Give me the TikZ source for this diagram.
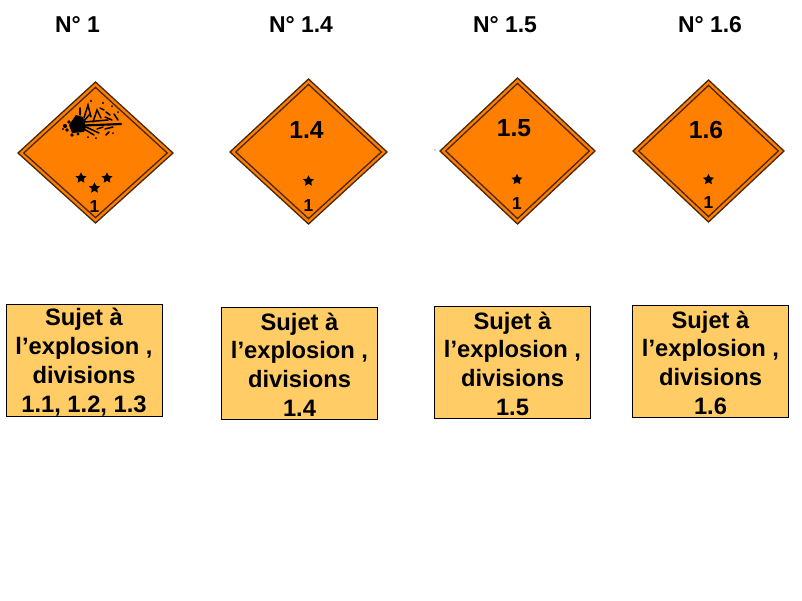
\documentclass[tikz,border=0pt]{standalone}
\usepackage{fontspec}
\setmainfont{Liberation Sans}
\usetikzlibrary{shapes.geometric}
\definecolor{plate}{RGB}{255,128,0}
\definecolor{edgeb}{RGB}{75,40,10}
\definecolor{boxfill}{RGB}{255,204,102}
\newcommand{\capfirst}{\rule{0pt}{15.5pt}}
\tikzset{
  x=0.75pt,y=-0.75pt,
  title/.style={font=\bfseries\fontsize{17.2}{18}\selectfont,inner sep=0pt,text=black},
  caption/.style={draw=black,line width=0.7pt,fill=boxfill,inner sep=0pt,align=center,font=\bfseries\fontsize{17.8}{21.6}\selectfont},
  plateno/.style={font=\bfseries\fontsize{18.5}{20}\selectfont,inner sep=0pt},
  classno/.style={font=\bfseries\fontsize{13}{14}\selectfont,inner sep=0pt},
  starmark/.style={star,star points=5,star point ratio=2,fill=black,inner sep=0pt,minimum size=8.5pt},
  ray/.style={line width=1.15pt,line cap=round},
}
\newcommand{\plate}[6]{% name cx cy rx ry(top) ry(bottom)
  \begin{scope}[shift={(#2,#3)}]
    \draw[edgeb,line width=1pt,fill=plate] (-#4,0)--(0,-#5)--(#4,0)--(0,#6)--cycle;
    \draw[edgeb,line width=1pt] (-#4+5.7,0)--(0,-#5+5.4)--(#4-5.7,0)--(0,#6-5.4)--cycle;
    \coordinate (#1) at (0,0);
  \end{scope}}
\begin{document}
\begin{tikzpicture}
\useasboundingbox (0,0) rectangle (802,600);
\fill[white] (0,0) rectangle (802,600);
% titles
\node[title] (t1) at (77.5,24.5) {N° 1};
\node[title] (t2) at (301,24.5) {N° 1.4};
\node[title] (t3) at (505,24.5) {N° 1.5};
\node[title] (t4) at (710,24.5) {N° 1.6};
% plates
\plate{p1}{95.5}{153}{77.5}{71}{70}
\plate{p2}{308.5}{152}{78.5}{73}{72}
\plate{p3}{517.5}{151}{77.5}{73}{73}
\plate{p4}{708.5}{151}{75.5}{71}{71}
% explosion
\begin{scope}[black]
  \fill (76,115)--(83,117)--(86,127)--(84,132)--(72,133)--(69,125)--cycle;
  \fill (65,126) circle (2.1);
  \fill (69,122) circle (1.8);
  \fill (67,130) circle (1.8);
  \fill (72,135) circle (1.8);
  \fill (78,134) circle (1.6);
  \fill (63,129) circle (1.1);
  \draw[ray,line width=1.6pt] (83,125.5)--(121,124);
  \draw[ray] (84,122)--(108,120);
  \draw[ray] (84,129)--(94,135);
  \draw[ray] (86,127)--(99,133);
  \draw[ray] (80,115)--(80,108);
  \draw[ray] (84,118)--(88,105)--(91,117);
  \draw[ray] (84,121)--(90,114);
  \draw[ray] (93,122)--(97,110)--(101,118);
  \draw[ray] (100,108)--(104,110);
  \draw[ray] (106,112)--(110,115);
  \draw[ray] (105,117)--(112,120);
  \draw[ray] (114,114)--(118,120);
  \draw[ray] (97,129)--(103,127);
  \draw[ray] (105,129)--(113,127);
  \draw[ray] (106,135)--(109,132);
  \fill (91,101) circle (1.1);
  \fill (103,103) circle (1.1);
  \fill (112,106) circle (1);
  \fill (118,112) circle (1);
  \fill (96,138) circle (1);
  \fill (113,133) circle (1);
  \fill (88,137) circle (1);
\end{scope}
% stars
\node[starmark] (s1) at (81,178) {};
\node[starmark] (s2) at (107,178) {};
\node[starmark] (s3) at (94.5,188) {};
\node[starmark] (s4) at (308.5,181) {};
\node[starmark] (s5) at (517,179.5) {};
\node[starmark] (s6) at (708.5,179.5) {};
% plate numbers
\node[classno] (c1) at (94.5,207) {1};
\node[classno] (c2) at (308.5,206) {1};
\node[classno] (c3) at (517,204) {1};
\node[classno] (c4) at (708.5,203) {1};
\node[plateno] (n2) at (306.5,130) {1.4};
\node[plateno] (n3) at (514,128.5) {1.5};
\node[plateno] (n4) at (706,130.5) {1.6};
\fill[black!70] (435,150) circle (0.7);
% captions
\node[caption,minimum width=117pt,minimum height=84.5pt] (b1) at (84,360.5) {\capfirst Sujet à\\l’explosion ,\\divisions\hspace{5pt}\\1.1, 1.2, 1.3};
\node[caption,minimum width=117.5pt,minimum height=84pt] (b2) at (299.5,363) {\capfirst Sujet à\\l’explosion ,\\divisions\hspace{5pt}\\1.4};
\node[caption,minimum width=117.5pt,minimum height=84pt] (b3) at (512.5,362) {\capfirst Sujet à\\l’explosion ,\\divisions\hspace{5pt}\\1.5};
\node[caption,minimum width=117.5pt,minimum height=84pt] (b4) at (710.5,361) {\capfirst Sujet à\\l’explosion ,\\divisions\hspace{5pt}\\1.6};
\end{tikzpicture}
\end{document}
